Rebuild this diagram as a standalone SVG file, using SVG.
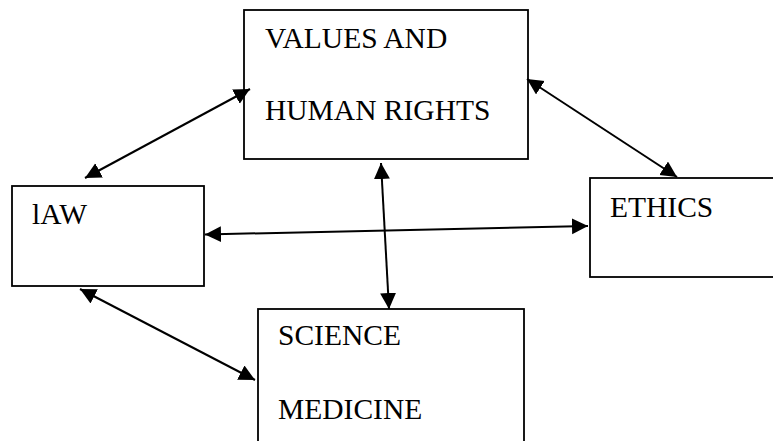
<svg xmlns="http://www.w3.org/2000/svg" width="773" height="441" viewBox="0 0 773 441">
<defs>
<marker id="ah" markerUnits="userSpaceOnUse" markerWidth="18" markerHeight="18" refX="16" refY="8" orient="auto-start-reverse" viewBox="0 0 18 18">
<path d="M0,0 L16,8 L0,16 Z" fill="#000"/>
</marker>
</defs>
<style>
.box{fill:#fff;stroke:#000;stroke-width:1.8}
.lbl{font-family:"Liberation Serif","Times New Roman",serif;font-size:29.5px;fill:#000}
.con{stroke:#000;stroke-width:2;fill:none;marker-start:url(#ah);marker-end:url(#ah)}
</style>
<rect width="773" height="441" fill="#fff"/>
<g id="values">
<rect class="box" x="244" y="10" width="284" height="149"/>
<text class="lbl" x="265" y="48">VALUES AND</text>
<text class="lbl" x="265" y="120">HUMAN RIGHTS</text>
</g>
<g id="law">
<rect class="box" x="12" y="186" width="192" height="100"/>
<text class="lbl" x="32" y="224">lAW</text>
</g>
<g id="ethics">
<rect class="box" x="590" y="178" width="190" height="99"/>
<text class="lbl" x="610" y="217">ETHICS</text>
</g>
<g id="science">
<rect class="box" x="258" y="309" width="266" height="140"/>
<text class="lbl" x="278" y="345">SCIENCE</text>
<text class="lbl" x="278" y="419">MEDICINE</text>
</g>
<g id="connectors">
<line class="con" x1="250" y1="89" x2="85" y2="178"/>
<line class="con" x1="527" y1="79" x2="677" y2="177"/>
<line class="con" x1="381" y1="163" x2="389" y2="309"/>
<line class="con" x1="205" y1="234.5" x2="588" y2="226"/>
<line class="con" x1="80" y1="289" x2="255" y2="380"/>
</g>
</svg>
